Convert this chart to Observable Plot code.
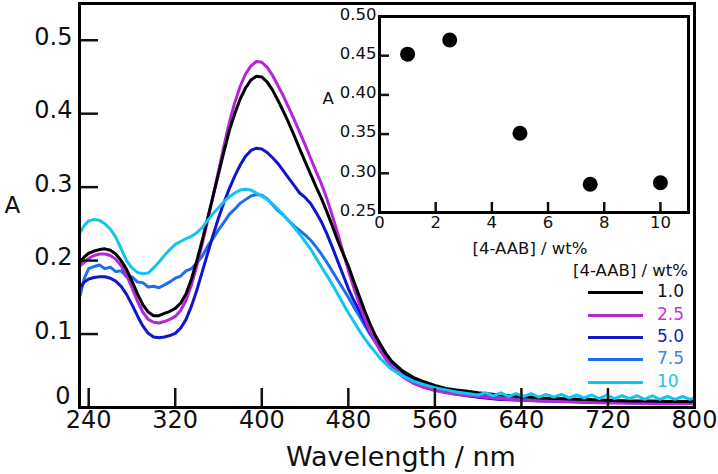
<!DOCTYPE html>
<html><head><meta charset="utf-8">
<script src="https://cdn.jsdelivr.net/npm/d3@7"></script>
<script src="https://cdn.jsdelivr.net/npm/@observablehq/plot@0.6"></script>
<style>
body{margin:0;background:#fff;font-family:"DejaVu Sans",sans-serif;}
#wrap{position:relative;width:718px;height:474px;overflow:hidden;}
#inset{position:absolute;left:300px;top:0;width:400px;height:260px;}
#legend{position:absolute;left:560px;top:258px;width:158px;}
#legend .title{position:absolute;left:13px;top:3px;font-size:16.5px;color:#111;white-space:nowrap;}
#legend .item{position:absolute;left:28px;height:24px;}
#legend .sw{position:absolute;left:0;top:11px;width:55px;height:3px;}
#legend .lb{position:absolute;left:69px;top:1px;font-size:17px;white-space:nowrap;line-height:20px;}
</style></head><body>
<div id="wrap"><div id="main"></div><div id="inset"></div><div id="legend"></div></div>
<script>
// wavelength grid (nm)
const wl = [232,236,240,245,250,255,260,265,270,275,280,285,290,295,300,305,310,315,320,325,330,335,340,345,350,355,360,365,370,375,380,385,390,395,400,405,410,415,420,425,430,435,440,445,450,455,460,465,470,475,480,485,490,495,500,505,510,515,520,530,540,550,560,570,580,590,600,620,640,660,680,700,720,740,760,780,800];
// 1.0 wt%
const s10 = [0.198,0.205,0.210,0.213,0.215,0.216,0.214,0.209,0.200,0.188,0.172,0.155,0.140,0.130,0.125,0.125,0.128,0.131,0.135,0.142,0.155,0.175,0.200,0.228,0.258,0.288,0.318,0.348,0.377,0.400,0.420,0.435,0.446,0.451,0.450,0.443,0.432,0.418,0.403,0.387,0.370,0.352,0.335,0.318,0.301,0.285,0.267,0.248,0.228,0.210,0.193,0.172,0.152,0.132,0.114,0.098,0.085,0.073,0.063,0.050,0.041,0.035,0.030,0.026,0.024,0.022,0.020,0.017,0.015,0.013,0.012,0.011,0.010,0.009,0.009,0.008,0.008];
// 2.5 wt%
const s25 = [0.193,0.198,0.203,0.207,0.209,0.209,0.207,0.202,0.193,0.180,0.163,0.145,0.130,0.120,0.116,0.115,0.117,0.120,0.124,0.132,0.146,0.167,0.193,0.223,0.255,0.288,0.322,0.356,0.388,0.415,0.437,0.454,0.465,0.471,0.470,0.463,0.452,0.438,0.424,0.408,0.392,0.375,0.358,0.340,0.322,0.305,0.285,0.262,0.238,0.212,0.187,0.163,0.142,0.122,0.104,0.089,0.076,0.065,0.056,0.042,0.033,0.027,0.023,0.020,0.018,0.016,0.015,0.012,0.010,0.009,0.008,0.007,0.006,0.006,0.005,0.005,0.005];
// 5.0 wt%
const s50 = [0.163,0.171,0.175,0.177,0.178,0.178,0.176,0.172,0.165,0.154,0.140,0.125,0.111,0.101,0.096,0.095,0.096,0.098,0.101,0.108,0.120,0.138,0.160,0.185,0.210,0.235,0.258,0.279,0.298,0.315,0.330,0.342,0.350,0.353,0.352,0.347,0.340,0.332,0.322,0.312,0.302,0.292,0.286,0.278,0.266,0.253,0.237,0.219,0.200,0.181,0.162,0.146,0.132,0.117,0.102,0.091,0.081,0.071,0.062,0.048,0.038,0.031,0.025,0.021,0.018,0.016,0.014,0.011,0.010,0.009,0.008,0.007,0.007,0.006,0.006,0.006,0.006];
// 7.5 wt%
const s75 = [0.152,0.176,0.189,0.192,0.194,0.189,0.191,0.185,0.186,0.178,0.178,0.171,0.170,0.164,0.165,0.163,0.167,0.171,0.176,0.179,0.186,0.189,0.197,0.206,0.220,0.230,0.242,0.252,0.263,0.270,0.278,0.283,0.288,0.290,0.289,0.284,0.276,0.268,0.262,0.254,0.247,0.241,0.235,0.228,0.219,0.209,0.198,0.186,0.174,0.162,0.150,0.137,0.125,0.112,0.100,0.089,0.079,0.070,0.062,0.049,0.039,0.032,0.027,0.023,0.020,0.018,0.016,0.013,0.012,0.011,0.010,0.009,0.009,0.008,0.008,0.008,0.008];
// 10 wt% (up to 600 nm on the shared grid)
const s100 = [0.238,0.248,0.254,0.256,0.255,0.250,0.243,0.232,0.216,0.200,0.190,0.184,0.182,0.183,0.190,0.198,0.207,0.215,0.222,0.226,0.230,0.233,0.238,0.245,0.255,0.264,0.272,0.280,0.287,0.292,0.296,0.297,0.296,0.292,0.288,0.283,0.277,0.270,0.262,0.254,0.245,0.236,0.226,0.216,0.204,0.192,0.180,0.168,0.155,0.142,0.129,0.117,0.105,0.094,0.084,0.075,0.066,0.059,0.052,0.043,0.036,0.031,0.027,0.024,0.021,0.019,0.017];
// 10 wt% wavy tail
const tailWl = [607,614,621,628,635,642,649,656,663,670,677,684,691,698,705,712,719,726,733,740,747,754,761,768,775,782,789,796,800];
const tail100 = [0.020,0.016,0.020,0.015,0.019,0.015,0.019,0.014,0.018,0.014,0.018,0.013,0.017,0.013,0.017,0.012,0.017,0.012,0.016,0.012,0.016,0.011,0.016,0.011,0.015,0.011,0.015,0.011,0.013];

const labels = ["1.0","2.5","5.0","7.5","10"];
const colors = ["#000000","#b526d6","#1414cc","#1f6ef0","#12c4f2"];
const labelColors = ["#111111","#c23ad8","#1a1acc","#3a80f0","#1ec3f0"];

// inset
const insetWt = [1,2.5,5,7.5,10];
const insetA = [0.452,0.470,0.351,0.286,0.288];

const xTicks = [240,320,400,480,560,640,720,800];
const yTicks = [0,0.1,0.2,0.3,0.4,0.5];
const inXTicks = [0,2,4,6,8,10];
const inYTicks = [0.25,0.30,0.35,0.40,0.45,0.50];

const allVals = [s10,s25,s50,s75,s100];
function rows(k){
  const v = allVals[k];
  let r = v.map((a,i)=>({wl:wl[i],A:a}));
  if(k===4) r = r.concat(tailWl.map((w,i)=>({wl:w,A:tail100[i]})));
  return r;
}
const drawOrder = [3,2,1,0,4];
const yFmt = d=>d===0?"0":d3.format(".1f")(d);

const main = Plot.plot({
  width:718, height:474,
  marginLeft:79, marginRight:24, marginTop:3, marginBottom:67,
  style:{fontFamily:"DejaVu Sans", fontSize:"24px", color:"#111", background:"white"},
  x:{domain:[231.5,800]},
  y:{domain:[0,0.55]},
  marks:[
    ...drawOrder.map(k=>Plot.line(rows(k),{x:"wl",y:"A",stroke:colors[k],strokeWidth:3,curve:"linear"})),
    Plot.axisX({ticks:xTicks, tickSize:-19, tickPadding:22, strokeWidth:2.5, label:null, tickFormat:d=>String(d)}),
    Plot.axisY({ticks:yTicks, tickSize:-19, tickPadding:0, strokeWidth:2.5, label:null, tickFormat:()=>""}),
    Plot.axisY({ticks:yTicks.filter(d=>d>0), tickSize:0, tickPadding:7, dy:-3, label:null, tickFormat:yFmt}),
    Plot.axisY({ticks:[yTicks[0]], tickSize:0, tickPadding:9, dy:-11, label:null, tickFormat:yFmt}),
    Plot.frame({stroke:"black",strokeWidth:3}),
    Plot.text(["A"],{frameAnchor:"left",dx:-75,fontSize:23}),
    Plot.text(["Wavelength / nm"],{frameAnchor:"bottom",dx:14,dy:58,fontSize:27})
  ]
});
document.getElementById("main").appendChild(main);

const inset = Plot.plot({
  width:400, height:260,
  marginLeft:79, marginRight:12, marginTop:16, marginBottom:48,
  style:{fontFamily:"DejaVu Sans", fontSize:"16.5px", color:"#111", background:"transparent"},
  x:{domain:[0,11]},
  y:{domain:[0.25,0.50]},
  marks:[
    Plot.dot(insetWt.map((w,i)=>({wt:w,A:insetA[i]})),{x:"wt",y:"A",r:7.5,fill:"black",stroke:null}),
    Plot.axisX({ticks:inXTicks, tickSize:-10, tickPadding:14, strokeWidth:2.5, label:null}),
    Plot.axisY({ticks:inYTicks, tickSize:-10, tickPadding:0, strokeWidth:2.5, label:null, tickFormat:()=>""}),
    Plot.axisY({ticks:inYTicks, tickSize:0, tickPadding:3, dy:-2, label:null, tickFormat:d3.format(".2f")}),
    Plot.frame({stroke:"black",strokeWidth:3}),
    Plot.text(["A"],{frameAnchor:"left",dx:-57,dy:-16,fontSize:16.5}),
    Plot.text(["[4-AAB] / wt%"],{frameAnchor:"bottom",dx:-4,dy:41,fontSize:16.5})
  ]
});
inset.style.background = "transparent";
document.getElementById("inset").appendChild(inset);

const lg = document.getElementById("legend");
const t = document.createElement("div"); t.className="title"; t.textContent="[4-AAB] / wt%"; lg.appendChild(t);
const ys = [22,45,67,89,112];
labels.forEach((l,k)=>{
  const it=document.createElement("div"); it.className="item"; it.style.top=ys[k]+"px";
  const sw=document.createElement("div"); sw.className="sw"; sw.style.background=colors[k];
  const lb=document.createElement("div"); lb.className="lb"; lb.style.color=labelColors[k]; lb.textContent=l;
  it.appendChild(sw); it.appendChild(lb); lg.appendChild(it);
});
</script>
</body></html>
